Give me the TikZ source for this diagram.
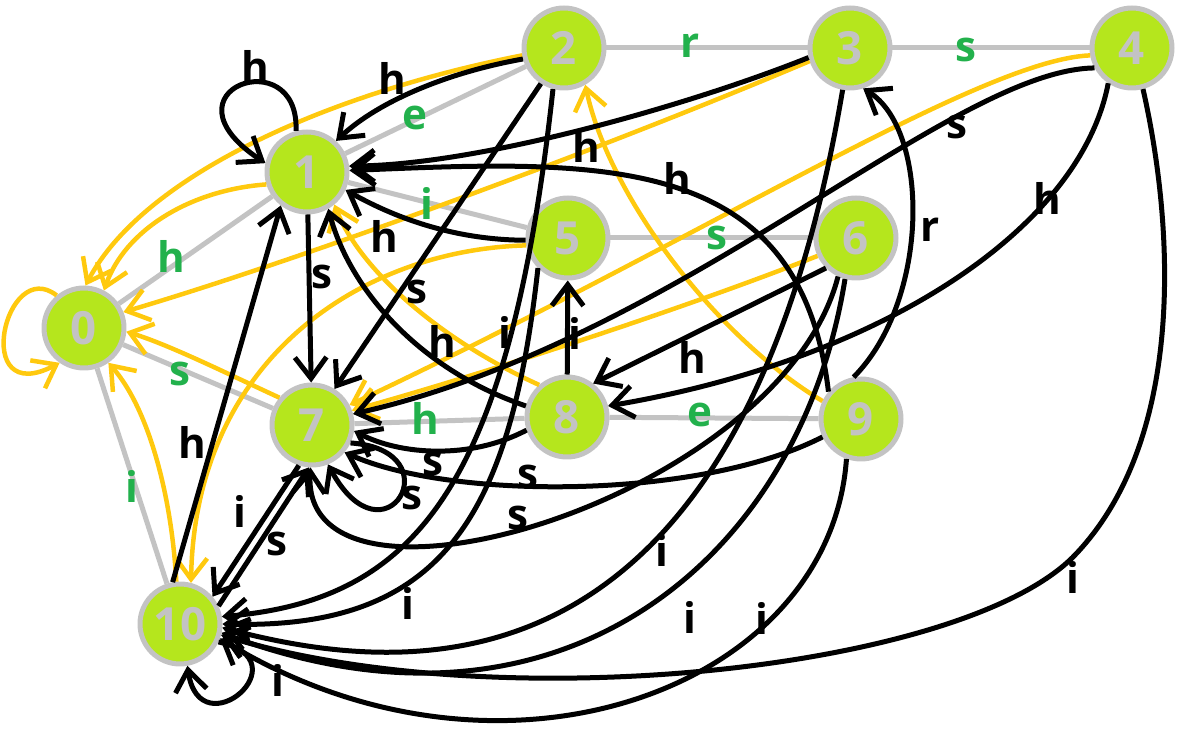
\documentclass[tikz,border=0pt]{standalone}
\usepackage{fontspec}
\setmainfont{Open Sans}
\usetikzlibrary{arrows.meta}
\definecolor{lime}{HTML}{B5E61D}
\definecolor{ring}{HTML}{C3C3C3}
\definecolor{gold}{HTML}{FFC90E}
\definecolor{grn}{HTML}{22B14C}
\tikzset{
 stnode/.style={circle, fill=lime, draw=ring, line width=0.1cm, minimum size=1.6cm, inner sep=0pt, text=ring, font=\fontsize{26}{26}\selectfont\bfseries},
 treeedge/.style={draw=ring, line width=0.1cm},
 barbtip/.style={-{Straight Barb[length=12pt,width=18pt]}},
 failedge/.style={draw=gold, line width=0.09cm, barbtip},
 goedge/.style={draw=black, line width=0.1cm, barbtip},
 glab/.style={text=grn, font=\fontsize{24}{24}\selectfont\bfseries, inner sep=0pt},
 blab/.style={text=black, font=\fontsize{24}{24}\selectfont\bfseries, inner sep=0pt},
}
\begin{document}
\begin{tikzpicture}[x=0.02cm,y=-0.02cm]
\useasboundingbox (0,0) rectangle (1181,732);
% states
\node[stnode] (n0) at (84,328) {0};
\node[stnode] (n1) at (307,172) {1};
\node[stnode] (n2) at (564,48) {2};
\node[stnode] (n3) at (850,48) {3};
\node[stnode] (n4) at (1132,48) {4};
\node[stnode] (n5) at (568,238) {5};
\node[stnode] (n6) at (856,238) {6};
\node[stnode] (n7) at (312,425) {7};
\node[stnode] (n8) at (567,417) {8};
\node[stnode] (n9) at (861,419) {9};
\node[stnode] (n10) at (180,624) {10};
% goto tree (gray)
\draw[treeedge] (n2) -- (n3);
\draw[treeedge] (n3) -- (n4);
\draw[treeedge] (n1) -- (n2);
\draw[treeedge] (n1) -- (n0);
\draw[treeedge] (n1) -- (n5);
\draw[treeedge] (n5) -- (n6);
\draw[treeedge] (n0) -- (n7);
\draw[treeedge] (n7) -- (n8);
\draw[treeedge] (n8) -- (n9);
\draw[treeedge] (n0) -- (n10);
% failure links (gold)
\draw[failedge] (n0.130) .. controls (5,255) and (-30,410) .. (n0.235);
\draw[failedge] (n1.197) .. controls (190,190) and (125,230) .. (n0.62);
\draw[failedge] (n2.190) .. controls (326,94) and (143,176) .. (n0.88);
\draw[failedge] (n3.198) .. controls (600,150) and (300,260) .. (n0.22);
\draw[failedge] (n4.190) .. controls (980,60) and (700,240) .. (n7.28);
\draw[failedge] (n6.205) .. controls (680,310) and (480,375) .. (n7.20);
\draw[failedge] (n7.140) .. controls (230,375) and (170,345) .. (n0.355);
\draw[failedge] (n10.95) .. controls (172,500) and (150,410) .. (n0.305);
\draw[failedge] (n5.190) .. controls (360,250) and (195,360) .. (n10.75);
\draw[failedge] (n8.131) .. controls (440,340) and (360,270) .. (n1.310);
\draw[failedge] (n9.155) .. controls (720,340) and (610,200) .. (n2.300);
% transitions (black)
\draw[goedge] (n1.105) .. controls (300,40) and (155,90) .. (n1.168);
\draw[goedge] (n1) -- (n7);
\draw[goedge] (n2.195) .. controls (450,72) and (380,100) .. (n1.47);
\draw[goedge] (n3.193) .. controls (690,105) and (480,165) .. (n1.8);
\draw[goedge] (n9.140) .. controls (800,150) and (600,160) .. (n1.2);
\draw[goedge] (n5.183) .. controls (450,240) and (390,215) .. (n1.335);
\draw[goedge] (n8.165) .. controls (420,370) and (350,290) .. (n1.300);
\draw[goedge] (n10.100) -- (n1.232);
\draw[goedge] (n2.237) -- (n7.58);
\draw[goedge] (n4.208) .. controls (950,70) and (680,340) .. (n7.15);
\draw[goedge] (n6.225) -- (n8.52);
\draw[goedge] (n4.236) .. controls (1080,230) and (880,360) .. (n8.15);
\draw[goedge] (n9.100) .. controls (930,300) and (930,130) .. (n3.288);
\draw[goedge] (n8) -- (n5);
\draw[goedge] (n8.198) .. controls (470,460) and (400,455) .. (n7.352);
\draw[goedge] (n9.205) .. controls (700,500) and (450,500) .. (n7.320);
\draw[goedge] (n6.245) .. controls (780,500) and (300,640) .. (n7.268);
\draw[goedge] (n7.335) .. controls (455,450) and (385,570) .. (n7.292);
\draw[goedge] (n7.252) -- (n10.40);
\draw[goedge] (n10.25) -- (n7.266);
\draw[goedge] (n10.335) .. controls (305,660) and (200,750) .. (n10.280);
\draw[goedge] (n2.255) .. controls (510,480) and (420,600) .. (n10.10);
\draw[goedge] (n5.225) .. controls (510,520) and (440,630) .. (n10.0);
\draw[goedge] (n3.260) .. controls (740,700) and (420,680) .. (n10.355);
\draw[goedge] (n6.255) .. controls (800,560) and (560,760) .. (n10.348);
\draw[goedge] (n9.250) .. controls (830,690) and (500,810) .. (n10.340);
\coordinate (k4) at (1075,555);
\draw[goedge] (n4.285) .. controls (1175,230) and (1185,440) .. (k4) .. controls (965,670) and (500,720) .. (n10.345);
% green labels
\node[glab] (g1) at (690,46) {r};
\node[glab] (g2) at (966,50) {s};
\node[glab] (g3) at (415,118) {e};
\node[glab] (g4) at (171,256) {h};
\node[glab] (g5) at (427,203) {i};
\node[glab] (g6) at (717,238) {s};
\node[glab] (g7) at (180,374) {s};
\node[glab] (g8) at (425,418) {h};
\node[glab] (g9) at (700,415) {e};
\node[glab] (g10) at (132,486) {i};
% black labels
\node[blab] (b1) at (255,66) {h};
\node[blab] (b2) at (392,78) {h};
\node[blab] (b3) at (586,146) {h};
\node[blab] (b4) at (957,127) {s};
\node[blab] (b5) at (1047,198) {h};
\node[blab] (b6) at (677,178) {h};
\node[blab] (b7) at (384,236) {h};
\node[blab] (b8) at (930,230) {r};
\node[blab] (b9) at (322,277) {s};
\node[blab] (b10) at (417,292) {s};
\node[blab] (b11) at (505,332) {i};
\node[blab] (b12) at (442,341) {h};
\node[blab] (b13) at (575,333) {i};
\node[blab] (b14) at (692,357) {h};
\node[blab] (b15) at (192,442) {h};
\node[blab] (b16) at (433,464) {s};
\node[blab] (b17) at (412,498) {s};
\node[blab] (b18) at (528,477) {s};
\node[blab] (b19) at (518,518) {s};
\node[blab] (b20) at (240,511) {i};
\node[blab] (b21) at (277,544) {s};
\node[blab] (b22) at (662,550) {i};
\node[blab] (b23) at (408,603) {i};
\node[blab] (b24) at (690,617) {i};
\node[blab] (b25) at (762,618) {i};
\node[blab] (b26) at (1073,577) {i};
\node[blab] (b27) at (278,680) {i};
\end{tikzpicture}
\end{document}
